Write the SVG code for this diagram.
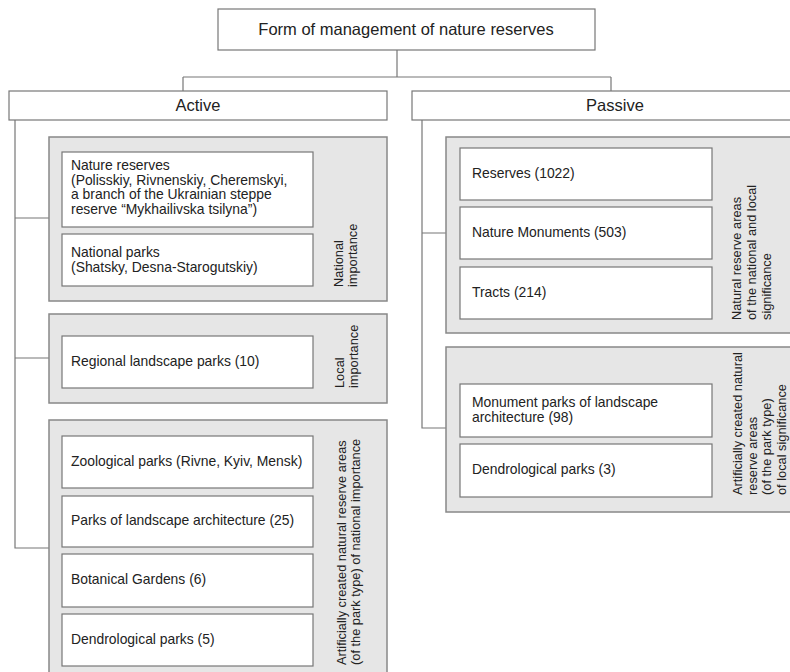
<svg xmlns="http://www.w3.org/2000/svg" width="790" height="672" viewBox="0 0 790 672">
<style>
.box{fill:#fff;stroke:#777;stroke-width:1.2}
.grp{fill:#e6e6e6;stroke:#888;stroke-width:1.5}
.t{font-family:"Liberation Sans",Arial,sans-serif;font-size:13.9px;fill:#222}
.h{font-family:"Liberation Sans",Arial,sans-serif;font-size:16.5px;fill:#222}
.v{font-family:"Liberation Sans",Arial,sans-serif;font-size:12.8px;fill:#222}
.c{text-anchor:middle}
.ln{fill:none;stroke:#777;stroke-width:1.2}
</style>
<rect width="790" height="672" fill="#fff"/>
<g id="connectors">
<path class="ln" d="M397,50 V77 M183,77 H611 M183,77 V91 M611,77 V91"/>
<path class="ln" d="M15,120 V548 H49 M15,218 H49 M15,358 H49"/>
<path class="ln" d="M422,120 V428 H446 M422,233 H446"/>
</g>
<g id="root"><rect class="box" x="218" y="9" width="377" height="41"/><text class="h c" x="406" y="35">Form of management of nature reserves</text></g>
<g id="active"><rect class="box" x="9" y="91" width="378" height="29"/><text class="h c" x="198" y="111">Active</text></g>
<g id="passive"><rect class="box" x="412" y="91" width="390" height="29"/><text class="h c" x="615" y="111">Passive</text></g>

<g id="grp-national">
<rect class="grp" x="49" y="137" width="338" height="164"/>
<text class="v" transform="translate(343,287) rotate(-90)"><tspan x="0" y="0">National</tspan><tspan x="0" dy="14">importance</tspan></text>
</g>
<g id="n-nature-reserves"><rect class="box" x="62" y="152" width="251" height="75"/>
<text class="t" x="71" y="170"><tspan x="71">Nature reserves</tspan><tspan x="71" dy="14.6">(Polisskiy, Rivnenskiy, Cheremskyi,</tspan><tspan x="71" dy="14.6">a branch of the Ukrainian steppe</tspan><tspan x="71" dy="14.6">reserve “Mykhailivska tsilyna”)</tspan></text></g>
<g id="n-national-parks"><rect class="box" x="62" y="234" width="251" height="52"/>
<text class="t" x="71" y="257"><tspan x="71">National parks</tspan><tspan x="71" dy="14.6">(Shatsky, Desna-Starogutskiy)</tspan></text></g>

<g id="grp-local">
<rect class="grp" x="49" y="314" width="338" height="89"/>
<text class="v" transform="translate(344,388) rotate(-90)"><tspan x="0" y="0">Local</tspan><tspan x="0" dy="14">importance</tspan></text>
</g>
<g id="n-regional"><rect class="box" x="62" y="336" width="251" height="52"/><text class="t" x="71" y="366">Regional landscape parks (10)</text></g>

<g id="grp-artificial-national">
<rect class="grp" x="49" y="420" width="338" height="260"/>
<text class="v" transform="translate(346,665) rotate(-90)"><tspan x="0" y="0">Artificially created natural reserve areas</tspan><tspan x="0" dy="14">(of the park type) of national importance</tspan></text>
</g>
<g id="n-zoo"><rect class="box" x="62" y="436" width="251" height="52"/><text class="t" x="71" y="466">Zoological parks (Rivne, Kyiv, Mensk)</text></g>
<g id="n-parks-arch"><rect class="box" x="62" y="496" width="251" height="51"/><text class="t" x="71" y="525">Parks of landscape architecture (25)</text></g>
<g id="n-botanical"><rect class="box" x="62" y="554" width="251" height="53"/><text class="t" x="71" y="584">Botanical Gardens (6)</text></g>
<g id="n-dendro5"><rect class="box" x="62" y="614" width="251" height="52"/><text class="t" x="71" y="644">Dendrological parks (5)</text></g>

<g id="grp-natural">
<rect class="grp" x="446" y="137" width="360" height="196"/>
<text class="v" transform="translate(741,320) rotate(-90)"><tspan x="0" y="0">Natural reserve areas</tspan><tspan x="0" dy="15">of the national and local</tspan><tspan x="0" dy="15">significance</tspan></text>
</g>
<g id="n-reserves"><rect class="box" x="460" y="148" width="252" height="52"/><text class="t" x="472" y="178">Reserves (1022)</text></g>
<g id="n-monuments"><rect class="box" x="460" y="207" width="252" height="52"/><text class="t" x="472" y="237">Nature Monuments (503)</text></g>
<g id="n-tracts"><rect class="box" x="460" y="267" width="252" height="52"/><text class="t" x="472" y="297">Tracts (214)</text></g>

<g id="grp-artificial-local">
<rect class="grp" x="446" y="347" width="360" height="165"/>
<text class="v" transform="translate(742,495) rotate(-90)"><tspan x="0" y="0">Artificially created natural</tspan><tspan x="0" dy="14.5">reserve areas</tspan><tspan x="0" dy="14.5">(of the park type)</tspan><tspan x="0" dy="14.5">of local significance</tspan></text>
</g>
<g id="n-monument-parks"><rect class="box" x="460" y="384" width="252" height="53"/>
<text class="t" x="472" y="407"><tspan x="472">Monument parks of landscape</tspan><tspan x="472" dy="15">architecture (98)</tspan></text></g>
<g id="n-dendro3"><rect class="box" x="460" y="444" width="252" height="53"/><text class="t" x="472" y="474">Dendrological parks (3)</text></g>
</svg>
